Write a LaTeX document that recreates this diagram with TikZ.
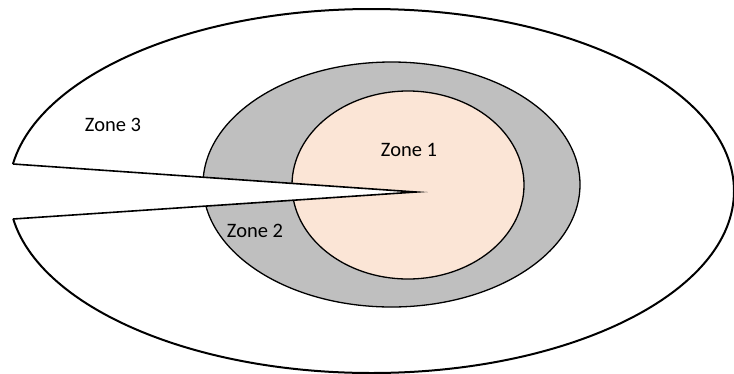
\documentclass[tikz,border=0pt]{standalone}
\usepackage{fontspec}
\setmainfont{Carlito}
\definecolor{zoneone}{HTML}{FBE5D6}
\definecolor{zonetwo}{HTML}{BFBFBF}
\begin{document}
\begin{tikzpicture}[x=1pt,y=-1pt,
  outerline/.style={line width=2pt,black},
  innerline/.style={line width=1.3pt,black},
  zonelabel/.style={font=\fontsize{20.5}{23}\selectfont,text=black,inner sep=0pt}]
\useasboundingbox (0,0) rectangle (734,373);
\fill[white] (0,0) rectangle (734,373);
% zone 3 (outer)
\draw[outerline] (371.5,191) ellipse [x radius=362.5, y radius=182];
% zone 2
\draw[innerline, fill=zonetwo] (391.5,184.5) ellipse [x radius=188.5, y radius=122.5];
% zone 1
\draw[innerline, fill=zoneone] (408,185) ellipse [x radius=116, y radius=94];
% wedge cut
\coordinate (wtop) at (13,164);
\coordinate (wbot) at (13,219);
\coordinate (tip) at (416,192);
\fill[white] (wtop) -- (tip) -- (wbot) -- (0,219) -- (0,164) -- cycle;
\draw[outerline, line width=1.6pt, line join=miter, miter limit=30] (wtop) -- (tip) -- (wbot);
% labels
\node[zonelabel] (z1) at (409,150) {Zone 1};
\node[zonelabel] (z2) at (255,231) {Zone 2};
\node[zonelabel] (z3) at (113,125) {Zone 3};
\end{tikzpicture}
\end{document}
